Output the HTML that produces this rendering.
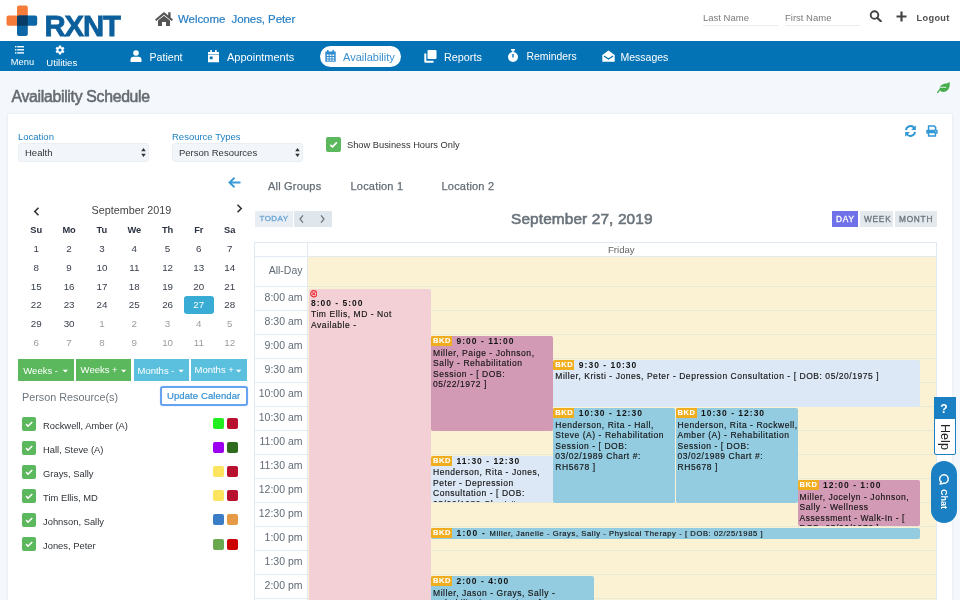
<!DOCTYPE html>
<html><head><meta charset="utf-8">
<style>
*{box-sizing:border-box;margin:0;padding:0}
html,body{width:960px;height:600px;overflow:hidden;background:#f4f7fb;}
body{will-change:transform;font-family:"Liberation Sans",sans-serif}
.a{position:absolute}
.t{position:absolute;line-height:1;white-space:nowrap}
#hdr{position:absolute;left:0;top:0;width:960px;height:41px;background:#fff}
#nav{position:absolute;left:0;top:41px;width:960px;height:30px;background:#0473b6}
.nv{color:#fff;font-size:11px}
#card{position:absolute;left:7.5px;top:114.3px;width:944.7px;height:500px;background:#fff;box-shadow:0 0 3px rgba(0,0,0,.08)}
.lbl{color:#1b7fc3;font-size:9.5px}
.sel{position:absolute;height:19px;background:#f2f6fa;border:1px solid #e9eef3;border-radius:3px}
.cal{color:#363d4a;font-size:9.8px;text-align:center;width:20px}
.dim{color:#9c9c9c}
.btn{position:absolute;height:22px;color:#fff;font-size:9.5px}
.g{background:#5cb85c}.b{background:#5bc0de}
.ck{position:absolute;width:14px;height:14px;background:#5cb85c;border-radius:2px}
.sw{position:absolute;width:11px;height:11px;border-radius:2px}
.nm{color:#2f3338;font-size:9.4px}
.tl{color:#616b76;font-size:10.5px;text-align:right;width:60px}
.hl{position:absolute;left:255px;width:682px;height:1px;background:#e3e8ee}
.ev{position:absolute;overflow:hidden;border-radius:2px;font-size:8.5px;letter-spacing:.55px;color:#141414;line-height:10.5px;-webkit-text-stroke:.15px #141414;padding-left:2px}
.ev b{letter-spacing:1px;font-weight:bold;-webkit-text-stroke:0}
.ttl{height:11.5px;white-space:nowrap}
.ln{white-space:nowrap}
.bkd{display:inline-block;background:#f0ae1f;color:#fff;-webkit-text-stroke:.1px #fff;font-size:7.5px;font-weight:bold;letter-spacing:.6px;height:10px;line-height:10px;padding:0 1px 0 2px;margin-left:-2px;margin-right:4.5px;vertical-align:top}
</style></head><body>
<div id="hdr">
  <!-- logo -->
  <svg class="a" style="left:0;top:0" width="40" height="40" viewBox="0 0 40 40">
    <path d="M17 7.4 a2 2 0 0 1 2 -2 h6.8 a2 2 0 0 1 2 2 V25.7 H8.5 a2 2 0 0 1 -2 -2 v-6.1 a2 2 0 0 1 2 -2 H17z" fill="#f47b3a"/>
    <path d="M17 17.6 a2 2 0 0 1 2 -2 H35.2 a2 2 0 0 1 2 2 v6.1 a2 2 0 0 1 -2 2 H27.8 V33.9 a2 2 0 0 1 -2 2 H19 a2 2 0 0 1 -2 -2z" fill="#0d66a6"/>
    <path d="M17 17.6 a2 2 0 0 1 2 -2 H27.8 V25.7 H17z" fill="#0a3d66"/>
  </svg>
  <div class="t" style="left:44.5px;top:11px;font-size:29.3px;font-weight:bold;color:#0c5f9b;letter-spacing:-1.1px;-webkit-text-stroke:.8px #0c5f9b">RXNT</div>
  <svg class="a" style="left:154px;top:11px" width="20" height="16" viewBox="0 0 20 16">
    <path d="M10 1 L1 8.5 L2.3 10 L10 3.7 L17.7 10 L19 8.5 L16.6 6.5 V1.3 H14.2 V4.5z" fill="#555"/>
    <path d="M4 9.5 L10 4.7 L16 9.5 V15 H12 V11 H8 V15 H4z" fill="#555"/>
  </svg>
  <div class="t" style="left:178px;top:13.5px;font-size:11.5px;color:#2a80c4;letter-spacing:-.07px;-webkit-text-stroke:.2px #2a80c4">Welcome&nbsp; Jones, Peter</div>
  <div class="t" style="left:703px;top:13px;font-size:9.5px;color:#7a7a7a">Last Name</div>
  <div class="a" style="left:703px;top:25px;width:75px;height:1px;background:#ececec"></div>
  <div class="t" style="left:785px;top:13px;font-size:9.5px;color:#7a7a7a">First Name</div>
  <div class="a" style="left:785px;top:25px;width:75px;height:1px;background:#ececec"></div>
  <svg class="a" style="left:869px;top:10.3px" width="14" height="12" viewBox="0 0 14 12">
    <circle cx="5.5" cy="5" r="3.8" stroke="#444" stroke-width="1.9" fill="none"/>
    <path d="M8.2 7.8 L11.8 11.2" stroke="#444" stroke-width="2.2" stroke-linecap="round"/>
  </svg>
  <svg class="a" style="left:894.5px;top:11.3px" width="13" height="11" viewBox="0 0 13 11">
    <path d="M6.5 0.5 V10.5 M1.5 5.5 H11.5" stroke="#444" stroke-width="2.2"/>
  </svg>
  <div class="t" style="left:916.5px;top:14px;font-size:9.2px;font-weight:bold;color:#505050;letter-spacing:.35px">Logout</div>
</div>
<div id="nav">
  <svg class="a" style="left:15px;top:5px" width="9" height="8" viewBox="0 0 9 8">
    <rect x="0" y="0" width="1.4" height="1.4" fill="#fff"/><rect x="2.2" y="0" width="6.8" height="1.4" fill="#fff"/>
    <rect x="0" y="3.1" width="1.4" height="1.4" fill="#fff"/><rect x="2.2" y="3.1" width="6.8" height="1.4" fill="#fff"/>
    <rect x="0" y="6.2" width="1.4" height="1.4" fill="#fff"/><rect x="2.2" y="6.2" width="6.8" height="1.4" fill="#fff"/>
  </svg>
  <div class="t nv" style="left:10.8px;top:17px;font-size:9.3px">Menu</div>
  <svg class="a" style="left:54.5px;top:3.7px" width="10" height="10" viewBox="0 0 10 10">
    <path d="M3.70 2.08 L3.82 0.55 L6.18 0.55 L6.30 2.08 L6.88 2.41 L8.26 1.75 L9.44 3.80 L8.18 4.67 L8.18 5.33 L9.44 6.20 L8.26 8.25 L6.88 7.59 L6.30 7.92 L6.18 9.45 L3.82 9.45 L3.70 7.92 L3.12 7.59 L1.74 8.25 L0.56 6.20 L1.82 5.33 L1.82 4.67 L0.56 3.80 L1.74 1.75 L3.12 2.41z M5 3.4 A1.6 1.6 0 1 0 5 6.6 A1.6 1.6 0 1 0 5 3.4z" fill="#fff" fill-rule="evenodd"/>
  </svg>
  <div class="t nv" style="left:46.3px;top:16.5px;font-size:9.6px">Utilities</div>
  <!-- patient -->
  <svg class="a" style="left:130px;top:9px" width="12" height="12" viewBox="0 0 12 12">
    <circle cx="6" cy="3" r="2.8" fill="#fff"/><path d="M0.5 12 V10 Q0.5 6.8 3.5 6.8 H8.5 Q11.5 6.8 11.5 10 V12z" fill="#fff"/>
  </svg>
  <div class="t nv" style="left:149.5px;top:10.5px;font-size:10.6px">Patient</div>
  <svg class="a" style="left:208px;top:9px" width="11" height="13" viewBox="0 0 11 13">
    <rect x="2.3" y="0" width="1.6" height="2.5" fill="#fff"/><rect x="7.1" y="0" width="1.6" height="2.5" fill="#fff"/>
    <rect x="0" y="2" width="11" height="2" fill="#fff"/>
    <path d="M0 4.6 H11 V12.2 H0z M1.8 6.6 V9.2 H4.6 V6.6z" fill="#fff" fill-rule="evenodd"/>
  </svg>
  <div class="t nv" style="left:227px;top:10.5px">Appointments</div>
  <div class="a" style="left:320px;top:4.5px;width:81px;height:21.5px;background:#fff;border-radius:11px"></div>
  <svg class="a" style="left:325px;top:9px" width="11" height="12" viewBox="0 0 11 12">
    <rect x="2" y="0" width="1.6" height="2.5" fill="#2e8bd0"/><rect x="7.4" y="0" width="1.6" height="2.5" fill="#2e8bd0"/>
    <path d="M0.3 1.5 H10.7 V11.7 H0.3z" fill="#2e8bd0"/>
    <g fill="#fff"><rect x="1.8" y="4.5" width="1.8" height="1.5"/><rect x="4.6" y="4.5" width="1.8" height="1.5"/><rect x="7.4" y="4.5" width="1.8" height="1.5"/>
    <rect x="1.8" y="7" width="1.8" height="1.5"/><rect x="4.6" y="7" width="1.8" height="1.5"/><rect x="7.4" y="7" width="1.8" height="1.5"/>
    <rect x="1.8" y="9.5" width="1.8" height="1.2"/><rect x="4.6" y="9.5" width="1.8" height="1.2"/><rect x="7.4" y="9.5" width="1.8" height="1.2"/></g>
  </svg>
  <div class="t" style="left:343px;top:10.5px;font-size:11px;color:#3a90d0">Availability</div>
  <svg class="a" style="left:424px;top:9px" width="13" height="13" viewBox="0 0 13 13">
    <rect x="3.5" y="0" width="9" height="9" rx="1" fill="#fff"/>
    <path d="M0.3 3.5 H2.3 V10.7 H9.5 V12.7 H1.3 Q0.3 12.7 0.3 11.7z" fill="#fff"/>
  </svg>
  <div class="t nv" style="left:444px;top:10.5px;font-size:10.8px">Reports</div>
  <svg class="a" style="left:507px;top:8px" width="12" height="14" viewBox="0 0 12 14">
    <rect x="4" y="0" width="4" height="1.6" fill="#fff"/><rect x="5.2" y="1" width="1.6" height="2" fill="#fff"/>
    <circle cx="6" cy="8" r="5" fill="#fff"/><path d="M6 5 V8.5" stroke="#0473b6" stroke-width="1.4"/>
  </svg>
  <div class="t nv" style="left:526.5px;top:11.2px;font-size:10.4px">Reminders</div>
  <svg class="a" style="left:602px;top:9px" width="13" height="12" viewBox="0 0 13 12">
    <path d="M0.3 5 L6.5 0.5 L12.7 5 V11.7 H0.3z" fill="#fff"/>
    <path d="M2 6 L6.5 9 L11 6" stroke="#0473b6" stroke-width="1.3" fill="none"/>
  </svg>
  <div class="t nv" style="left:620.5px;top:10.5px;font-size:10.5px">Messages</div>
</div>
<!-- leaf -->
<svg class="a" style="left:937px;top:81px" width="13" height="12" viewBox="0 0 13 12">
  <path d="M2.6 7.5 C3 3.5 6.5 2.6 9.5 2.4 C11 2.3 12 1.6 12.4 0.8 C13.2 3.5 12.6 7.2 10.5 9.3 C8.5 11.2 5.5 11.3 3.8 10.2 C3.2 9.8 2.7 9 2.6 7.5z" fill="#46ad4b"/>
  <path d="M0.6 11.6 C1.5 9.8 3 8.4 4.5 7.8" stroke="#46ad4b" stroke-width="1.3" fill="none" stroke-linecap="round"/>
  <path d="M3.2 6.3 H9.3" stroke="#f4f7fb" stroke-width="0.9"/>
</svg>
<div class="t" style="left:11.5px;top:88.6px;font-size:15.8px;color:#646b72;letter-spacing:-.3px;-webkit-text-stroke:.55px #646b72">Availability Schedule</div>
<div id="card"></div>
<!-- toolbar icons -->
<svg class="a" style="left:904px;top:125px" width="13" height="12" viewBox="0 0 13 12">
  <path d="M2 5.2 A4.6 4.6 0 0 1 10.3 3" stroke="#2f96d6" stroke-width="1.9" fill="none"/>
  <path d="M11.8 0.3 V5 H7.1z" fill="#2f96d6"/>
  <path d="M11 6.8 A4.6 4.6 0 0 1 2.7 9" stroke="#2f96d6" stroke-width="1.9" fill="none"/>
  <path d="M1.2 11.7 V7 H5.9z" fill="#2f96d6"/>
</svg>
<svg class="a" style="left:926px;top:125px" width="12" height="12" viewBox="0 0 12 12">
  <path d="M2.6 5.2 V1.1 H8.3 L9.6 2.4 V5.2" stroke="#3399d6" stroke-width="1.5" fill="none"/>
  <rect x="0.3" y="4.8" width="11.4" height="4" rx="0.8" fill="#3399d6"/>
  <circle cx="9.8" cy="6.3" r="0.6" fill="#fff"/>
  <path d="M2.6 7.6 H9.4 V11.1 H2.6z" stroke="#3399d6" stroke-width="1.5" fill="#fff"/>
</svg>
<!-- filters -->
<div class="t lbl" style="left:18px;top:132px">Location</div>
<div class="sel" style="left:18px;top:143px;width:131px"></div>
<div class="t" style="left:25px;top:148px;font-size:9.5px;color:#333">Health</div>
<svg class="a" style="left:141px;top:148px" width="5" height="9" viewBox="0 0 5 9"><path d="M2.5 0 L4.8 3.3 H0.2z M2.5 9 L4.8 5.7 H0.2z" fill="#333"/></svg>
<div class="t lbl" style="left:172px;top:132px">Resource Types</div>
<div class="sel" style="left:172px;top:143px;width:131px"></div>
<div class="t" style="left:179px;top:148px;font-size:9.5px;color:#333">Person Resources</div>
<svg class="a" style="left:295px;top:148px" width="5" height="9" viewBox="0 0 5 9"><path d="M2.5 0 L4.8 3.3 H0.2z M2.5 9 L4.8 5.7 H0.2z" fill="#333"/></svg>
<div class="ck" style="left:326px;top:137px;width:15px;height:15px"></div>
<svg class="a" style="left:326px;top:137px" width="15" height="15" viewBox="0 0 15 15"><path d="M4.3 7.8 L6.5 9.8 L10.8 5.3" stroke="#fff" stroke-width="1.7" fill="none"/></svg>
<div class="t" style="left:347px;top:140.5px;font-size:9.3px;color:#333">Show Business Hours Only</div>
<!-- back arrow -->
<svg class="a" style="left:228px;top:177px" width="13" height="11" viewBox="0 0 13 11">
  <path d="M12.5 5.5 H2 M6.5 0.8 L1.5 5.5 L6.5 10.2" stroke="#3a9ad9" stroke-width="1.9" fill="none"/>
</svg>
<div class="t" style="left:268px;top:180.5px;font-size:11px;color:#646d75;letter-spacing:.2px;-webkit-text-stroke:.25px #646d75">All Groups</div>
<div class="t" style="left:350.5px;top:180.5px;font-size:11px;color:#646d75;letter-spacing:.2px;-webkit-text-stroke:.25px #646d75">Location 1</div>
<div class="t" style="left:441.5px;top:180.5px;font-size:11px;color:#646d75;letter-spacing:.2px;-webkit-text-stroke:.25px #646d75">Location 2</div>
<!-- mini calendar -->
<svg class="a" style="left:33px;top:207px" width="7" height="9" viewBox="0 0 7 9"><path d="M5.5 0.8 L1.8 4.5 L5.5 8.2" stroke="#333" stroke-width="1.6" fill="none"/></svg>
<div class="t" style="left:91.5px;top:204.5px;font-size:10.8px;color:#444">September 2019</div>
<svg class="a" style="left:236px;top:204px" width="7" height="9" viewBox="0 0 7 9"><path d="M1.5 0.8 L5.2 4.5 L1.5 8.2" stroke="#333" stroke-width="1.6" fill="none"/></svg>
<div class="t cal" style="left:26.3px;top:225.5px;font-weight:bold;color:#2b3240;font-size:9.3px">Su</div>
<div class="t cal" style="left:59.1px;top:225.5px;font-weight:bold;color:#2b3240;font-size:9.3px">Mo</div>
<div class="t cal" style="left:91.9px;top:225.5px;font-weight:bold;color:#2b3240;font-size:9.3px">Tu</div>
<div class="t cal" style="left:124.3px;top:225.5px;font-weight:bold;color:#2b3240;font-size:9.3px">We</div>
<div class="t cal" style="left:157.6px;top:225.5px;font-weight:bold;color:#2b3240;font-size:9.3px">Th</div>
<div class="t cal" style="left:188.8px;top:225.5px;font-weight:bold;color:#2b3240;font-size:9.3px">Fr</div>
<div class="t cal" style="left:219.8px;top:225.5px;font-weight:bold;color:#2b3240;font-size:9.3px">Sa</div>
<div class="t cal" style="left:26.3px;top:244.0px">1</div>
<div class="t cal" style="left:59.1px;top:244.0px">2</div>
<div class="t cal" style="left:91.9px;top:244.0px">3</div>
<div class="t cal" style="left:124.3px;top:244.0px">4</div>
<div class="t cal" style="left:157.6px;top:244.0px">5</div>
<div class="t cal" style="left:188.8px;top:244.0px">6</div>
<div class="t cal" style="left:219.8px;top:244.0px">7</div>
<div class="t cal" style="left:26.3px;top:262.8px">8</div>
<div class="t cal" style="left:59.1px;top:262.8px">9</div>
<div class="t cal" style="left:91.9px;top:262.8px">10</div>
<div class="t cal" style="left:124.3px;top:262.8px">11</div>
<div class="t cal" style="left:157.6px;top:262.8px">12</div>
<div class="t cal" style="left:188.8px;top:262.8px">13</div>
<div class="t cal" style="left:219.8px;top:262.8px">14</div>
<div class="t cal" style="left:26.3px;top:281.6px">15</div>
<div class="t cal" style="left:59.1px;top:281.6px">16</div>
<div class="t cal" style="left:91.9px;top:281.6px">17</div>
<div class="t cal" style="left:124.3px;top:281.6px">18</div>
<div class="t cal" style="left:157.6px;top:281.6px">19</div>
<div class="t cal" style="left:188.8px;top:281.6px">20</div>
<div class="t cal" style="left:219.8px;top:281.6px">21</div>
<div class="t cal" style="left:26.3px;top:300.4px">22</div>
<div class="t cal" style="left:59.1px;top:300.4px">23</div>
<div class="t cal" style="left:91.9px;top:300.4px">24</div>
<div class="t cal" style="left:124.3px;top:300.4px">25</div>
<div class="t cal" style="left:157.6px;top:300.4px">26</div>
<div class="a" style="left:184px;top:295.5px;width:29.6px;height:18.7px;background:#38acd5;border-radius:3px"></div>
<div class="t cal" style="left:188.8px;top:300.4px;color:#fff">27</div>
<div class="t cal" style="left:219.8px;top:300.4px">28</div>
<div class="t cal" style="left:26.3px;top:319.2px">29</div>
<div class="t cal" style="left:59.1px;top:319.2px">30</div>
<div class="t cal dim" style="left:91.9px;top:319.2px">1</div>
<div class="t cal dim" style="left:124.3px;top:319.2px">2</div>
<div class="t cal dim" style="left:157.6px;top:319.2px">3</div>
<div class="t cal dim" style="left:188.8px;top:319.2px">4</div>
<div class="t cal dim" style="left:219.8px;top:319.2px">5</div>
<div class="t cal dim" style="left:26.3px;top:338.0px">6</div>
<div class="t cal dim" style="left:59.1px;top:338.0px">7</div>
<div class="t cal dim" style="left:91.9px;top:338.0px">8</div>
<div class="t cal dim" style="left:124.3px;top:338.0px">9</div>
<div class="t cal dim" style="left:157.6px;top:338.0px">10</div>
<div class="t cal dim" style="left:188.8px;top:338.0px">11</div>
<div class="t cal dim" style="left:219.8px;top:338.0px">12</div>
<div class="btn g" style="left:18px;top:359px;width:55.5px"></div>
<div class="t" style="left:23.3px;top:365.5px;font-size:9.5px;color:#fff">Weeks -</div>
<div class="btn g" style="left:76px;top:359px;width:55px"></div>
<div class="t" style="left:80.6px;top:364.5px;font-size:9.5px;color:#fff">Weeks +</div>
<div class="btn b" style="left:133.5px;top:359px;width:55.5px"></div>
<div class="t" style="left:137.5px;top:365.5px;font-size:9.5px;color:#fff">Months -</div>
<div class="btn b" style="left:191px;top:359px;width:56px"></div>
<div class="t" style="left:194.5px;top:364.5px;font-size:9.5px;color:#fff">Months +</div>
<svg class="a" style="left:0;top:0" width="260" height="400" viewBox="0 0 260 400">
  <path d="M62.7 369.7 H68 L65.35 372.5z M121 369.7 H126.3 L123.65 372.5z M178.5 369.7 H183.8 L181.15 372.5z M236 369.7 H241.3 L238.65 372.5z" fill="#fff"/>
</svg>
<div class="t" style="left:22px;top:391.5px;font-size:10.8px;color:#6c757d">Person Resource(s)</div>
<div class="a" style="left:159.5px;top:386px;width:88px;height:20px;border:2px solid #66a3f0;border-radius:3px;box-shadow:0 0 1px #8ab8f5"></div>
<div class="t" style="left:167px;top:390.5px;font-size:9.5px;color:#3590d2;letter-spacing:.1px;-webkit-text-stroke:.2px #3590d2">Update Calendar</div>
<div class="ck" style="left:22px;top:417.0px"></div><svg class="a" style="left:22px;top:417.0px" width="14" height="14" viewBox="0 0 14 14"><path d="M4 7.2 L6.1 9.2 L10.2 5" stroke="#fff" stroke-width="1.6" fill="none"/></svg><div class="t nm" style="left:43px;top:420.5px">Rockwell, Amber (A)</div><div class="sw" style="left:212.5px;top:418.2px;background:#22ee22"></div><div class="sw" style="left:227px;top:418.2px;background:#b8102e"></div>
<div class="ck" style="left:22px;top:441.1px"></div><svg class="a" style="left:22px;top:441.1px" width="14" height="14" viewBox="0 0 14 14"><path d="M4 7.2 L6.1 9.2 L10.2 5" stroke="#fff" stroke-width="1.6" fill="none"/></svg><div class="t nm" style="left:43px;top:444.6px">Hall, Steve (A)</div><div class="sw" style="left:212.5px;top:442.2px;background:#9b00f0"></div><div class="sw" style="left:227px;top:442.2px;background:#2e6b1e"></div>
<div class="ck" style="left:22px;top:465.1px"></div><svg class="a" style="left:22px;top:465.1px" width="14" height="14" viewBox="0 0 14 14"><path d="M4 7.2 L6.1 9.2 L10.2 5" stroke="#fff" stroke-width="1.6" fill="none"/></svg><div class="t nm" style="left:43px;top:468.6px">Grays, Sally</div><div class="sw" style="left:212.5px;top:466.3px;background:#fce45e"></div><div class="sw" style="left:227px;top:466.3px;background:#b8102e"></div>
<div class="ck" style="left:22px;top:489.1px"></div><svg class="a" style="left:22px;top:489.1px" width="14" height="14" viewBox="0 0 14 14"><path d="M4 7.2 L6.1 9.2 L10.2 5" stroke="#fff" stroke-width="1.6" fill="none"/></svg><div class="t nm" style="left:43px;top:492.6px">Tim Ellis, MD</div><div class="sw" style="left:212.5px;top:490.3px;background:#fce45e"></div><div class="sw" style="left:227px;top:490.3px;background:#b8102e"></div>
<div class="ck" style="left:22px;top:513.2px"></div><svg class="a" style="left:22px;top:513.2px" width="14" height="14" viewBox="0 0 14 14"><path d="M4 7.2 L6.1 9.2 L10.2 5" stroke="#fff" stroke-width="1.6" fill="none"/></svg><div class="t nm" style="left:43px;top:516.7px">Johnson, Sally</div><div class="sw" style="left:212.5px;top:514.4px;background:#3a7cc6"></div><div class="sw" style="left:227px;top:514.4px;background:#e69a45"></div>
<div class="ck" style="left:22px;top:537.2px"></div><svg class="a" style="left:22px;top:537.2px" width="14" height="14" viewBox="0 0 14 14"><path d="M4 7.2 L6.1 9.2 L10.2 5" stroke="#fff" stroke-width="1.6" fill="none"/></svg><div class="t nm" style="left:43px;top:540.8px">Jones, Peter</div><div class="sw" style="left:212.5px;top:538.5px;background:#6aa84f"></div><div class="sw" style="left:227px;top:538.5px;background:#cc0000"></div>

<!-- scheduler toolbar -->
<div class="a" style="left:254.5px;top:211px;width:38px;height:15.5px;background:#e8eef4"></div>
<div class="t" style="left:259.5px;top:215px;font-size:8px;color:#6aa6d6;letter-spacing:.45px;-webkit-text-stroke:.3px #6aa6d6">TODAY</div>
<div class="a" style="left:294px;top:211px;width:38px;height:15.5px;background:#dfe6ec"></div>
<svg class="a" style="left:298px;top:214px" width="30" height="10" viewBox="0 0 30 10"><path d="M5 1.3 L2 5 L5 8.7 M23 1.3 L26 5 L23 8.7" stroke="#6b747c" stroke-width="1.2" fill="none"/></svg>
<div class="t" style="left:511px;top:210.6px;font-size:15.4px;color:#6a737b;letter-spacing:.12px;-webkit-text-stroke:.6px #6a737b">September 27, 2019</div>
<div class="a" style="left:832px;top:211px;width:26px;height:15.5px;background:#6f71e9"></div>
<div class="t" style="left:836px;top:215px;font-size:8.3px;color:#fff;letter-spacing:.75px;-webkit-text-stroke:.3px #fff">DAY</div>
<div class="a" style="left:860px;top:211px;width:33px;height:15.5px;background:#e4e9ee"></div>
<div class="t" style="left:864px;top:215px;font-size:8.3px;color:#6c757d;letter-spacing:.75px;-webkit-text-stroke:.3px #6c757d">WEEK</div>
<div class="a" style="left:895px;top:211px;width:41.5px;height:15.5px;background:#e4e9ee"></div>
<div class="t" style="left:899px;top:215px;font-size:8.3px;color:#6c757d;letter-spacing:.75px;-webkit-text-stroke:.3px #6c757d">MONTH</div>
<!-- grid -->
<div class="a" style="left:254px;top:241.5px;width:683px;height:400px;border:1px solid #e1eaf2;background:#fff"></div>
<div class="a" style="left:307.5px;top:256px;width:628.5px;height:400px;background:#faf2d3"></div>
<div class="a" style="left:307px;top:242px;width:1px;height:400px;background:#e3eaf1"></div>
<div class="hl" style="top:255.5px;background:#e3eaf1"></div>
<div class="t" style="left:608px;top:244.5px;font-size:9.6px;color:#666">Friday</div>
<div class="t tl" style="left:242.5px;top:265px">All-Day</div>
<div class="a" style="left:255px;top:285.5px;width:52px;height:1.3px;background:#e4ecf3"></div><div class="a" style="left:308px;top:285.5px;width:628px;height:1.3px;background:#e8e8da"></div><div class="t tl" style="left:242.5px;top:291.5px">8:00 am</div>
<div class="a" style="left:255px;top:309.5px;width:52px;height:1.3px;background:#e4ecf3"></div><div class="a" style="left:308px;top:309.5px;width:628px;height:1.3px;background:#e8e8da"></div><div class="t tl" style="left:242.5px;top:315.5px">8:30 am</div>
<div class="a" style="left:255px;top:333.5px;width:52px;height:1.3px;background:#e4ecf3"></div><div class="a" style="left:308px;top:333.5px;width:628px;height:1.3px;background:#e8e8da"></div><div class="t tl" style="left:242.5px;top:339.5px">9:00 am</div>
<div class="a" style="left:255px;top:357.5px;width:52px;height:1.3px;background:#e4ecf3"></div><div class="a" style="left:308px;top:357.5px;width:628px;height:1.3px;background:#e8e8da"></div><div class="t tl" style="left:242.5px;top:363.5px">9:30 am</div>
<div class="a" style="left:255px;top:381.5px;width:52px;height:1.3px;background:#e4ecf3"></div><div class="a" style="left:308px;top:381.5px;width:628px;height:1.3px;background:#e8e8da"></div><div class="t tl" style="left:242.5px;top:387.5px">10:00 am</div>
<div class="a" style="left:255px;top:405.5px;width:52px;height:1.3px;background:#e4ecf3"></div><div class="a" style="left:308px;top:405.5px;width:628px;height:1.3px;background:#e8e8da"></div><div class="t tl" style="left:242.5px;top:411.5px">10:30 am</div>
<div class="a" style="left:255px;top:429.5px;width:52px;height:1.3px;background:#e4ecf3"></div><div class="a" style="left:308px;top:429.5px;width:628px;height:1.3px;background:#e8e8da"></div><div class="t tl" style="left:242.5px;top:435.5px">11:00 am</div>
<div class="a" style="left:255px;top:453.5px;width:52px;height:1.3px;background:#e4ecf3"></div><div class="a" style="left:308px;top:453.5px;width:628px;height:1.3px;background:#e8e8da"></div><div class="t tl" style="left:242.5px;top:459.5px">11:30 am</div>
<div class="a" style="left:255px;top:477.5px;width:52px;height:1.3px;background:#e4ecf3"></div><div class="a" style="left:308px;top:477.5px;width:628px;height:1.3px;background:#e8e8da"></div><div class="t tl" style="left:242.5px;top:483.5px">12:00 pm</div>
<div class="a" style="left:255px;top:501.5px;width:52px;height:1.3px;background:#e4ecf3"></div><div class="a" style="left:308px;top:501.5px;width:628px;height:1.3px;background:#e8e8da"></div><div class="t tl" style="left:242.5px;top:507.5px">12:30 pm</div>
<div class="a" style="left:255px;top:525.5px;width:52px;height:1.3px;background:#e4ecf3"></div><div class="a" style="left:308px;top:525.5px;width:628px;height:1.3px;background:#e8e8da"></div><div class="t tl" style="left:242.5px;top:531.5px">1:00 pm</div>
<div class="a" style="left:255px;top:549.5px;width:52px;height:1.3px;background:#e4ecf3"></div><div class="a" style="left:308px;top:549.5px;width:628px;height:1.3px;background:#e8e8da"></div><div class="t tl" style="left:242.5px;top:555.5px">1:30 pm</div>
<div class="a" style="left:255px;top:573.5px;width:52px;height:1.3px;background:#e4ecf3"></div><div class="a" style="left:308px;top:573.5px;width:628px;height:1.3px;background:#e8e8da"></div><div class="t tl" style="left:242.5px;top:579.5px">2:00 pm</div>
<div class="a" style="left:255px;top:597.5px;width:52px;height:1.3px;background:#e4ecf3"></div><div class="a" style="left:308px;top:597.5px;width:628px;height:1.3px;background:#e8e8da"></div><div class="t tl" style="left:242.5px;top:603.5px">2:30 pm</div>
<div class="ev" style="left:309px;top:289px;width:122px;height:320px;background:#f2d0d6"><svg style="display:block;margin:1px 0 0 -1.5px" width="7.5" height="7.5" viewBox="0 0 8 8"><circle cx="4" cy="4" r="3.3" stroke="#ee2b30" stroke-width="1.2" fill="none"/><path d="M2.5 2.5 L5.5 5.5 M5.5 2.5 L2.5 5.5" stroke="#ee2b30" stroke-width="1.1"/></svg><div class="ttl" style="height:11px;margin-top:0.5px"><b>8:00 - 5:00</b></div><div class="ln">Tim Ellis, MD - Not</div><div class="ln">Available -</div></div>
<div class="ev" style="left:431px;top:336px;width:122.3px;height:94.5px;background:#d39ab5"><div class="ttl"><span class="bkd">BKD</span><b>9:00 - 11:00</b></div><div class="ln">Miller, Paige - Johnson,</div><div class="ln">Sally - Rehabilitation</div><div class="ln">Session - [ DOB:</div><div class="ln">05/22/1972 ]</div></div>
<div class="ev" style="left:553.3px;top:359.7px;width:366.7px;height:47.3px;background:#dce8f5"><div class="ttl"><span class="bkd">BKD</span><b>9:30 - 10:30</b></div><div class="ln">Miller, Kristi - Jones, Peter - Depression Consultation - [ DOB: 05/20/1975 ]</div></div>
<div class="ev" style="left:553.3px;top:408px;width:121.7px;height:94.5px;background:#93cbe0"><div class="ttl"><span class="bkd">BKD</span><b>10:30 - 12:30</b></div><div class="ln">Henderson, Rita - Hall,</div><div class="ln">Steve (A) - Rehabilitation</div><div class="ln">Session - [ DOB:</div><div class="ln">03/02/1989 Chart #:</div><div class="ln">RH5678 ]</div></div>
<div class="ev" style="left:675.5px;top:408px;width:122.0px;height:94.5px;background:#93cbe0"><div class="ttl"><span class="bkd">BKD</span><b>10:30 - 12:30</b></div><div class="ln">Henderson, Rita - Rockwell,</div><div class="ln">Amber (A) - Rehabilitation</div><div class="ln">Session - [ DOB:</div><div class="ln">03/02/1989 Chart #:</div><div class="ln">RH5678 ]</div></div>
<div class="ev" style="left:431px;top:455.6px;width:122.3px;height:46.9px;background:#dce8f5"><div class="ttl"><span class="bkd">BKD</span><b>11:30 - 12:30</b></div><div class="ln">Henderson, Rita - Jones,</div><div class="ln">Peter - Depression</div><div class="ln">Consultation - [ DOB:</div><div class="ln">03/02/1989 Chart #:</div></div>
<div class="ev" style="left:797.5px;top:480.4px;width:122.5px;height:45.6px;background:#d39ab5"><div class="ttl"><span class="bkd">BKD</span><b>12:00 - 1:00</b></div><div class="ln">Miller, Jocelyn - Johnson,</div><div class="ln">Sally - Wellness</div><div class="ln">Assessment - Walk-In - [</div><div class="ln">DOB: 05/26/1972 ]</div></div>
<div class="ev" style="left:431px;top:528px;width:489px;height:11px;background:#93cbe0;white-space:nowrap"><span class="bkd">BKD</span><b style="letter-spacing:1.2px">1:00 - </b><span style="font-size:7.6px;letter-spacing:.58px">Miller, Janelle - Grays, Sally - Physical Therapy - [ DOB: 02/25/1985 ]</span></div>
<div class="ev" style="left:431px;top:576px;width:163.0px;height:44.0px;background:#93cbe0"><div class="ttl"><span class="bkd">BKD</span><b>2:00 - 4:00</b></div><div class="ln">Miller, Jason - Grays, Sally -</div><div class="ln">Rehabilitation Session - [ DOB:</div></div>
<div class="a" style="left:934px;top:397px;width:21.5px;height:58px;background:#fff;border:1.5px solid #1b7fc4;border-radius:2px"></div>
<div class="a" style="left:934px;top:397px;width:21.5px;height:21.5px;background:#1b7fc4"></div>
<div class="t" style="left:940.3px;top:403px;font-size:12px;font-weight:bold;color:#fff">?</div>
<div class="t" style="left:937.5px;top:424px;font-size:12.6px;color:#222;transform:rotate(90deg);transform-origin:6.3px 6.3px">Help</div>
<div class="a" style="left:931px;top:461px;width:25.5px;height:62px;background:#1b7fc4;border-radius:13px"></div>
<svg class="a" style="left:937.5px;top:473px" width="12" height="12" viewBox="0 0 12 12"><path d="M3.2 9.3 A4.3 4.3 0 1 1 5 10.2" stroke="#fff" stroke-width="1.4" fill="none"/><path d="M3.5 8 L2 11 L5.5 10.3" stroke="#fff" stroke-width="1.3" fill="none" stroke-linejoin="round"/></svg>
<div class="t" style="left:938px;top:489px;font-size:9px;font-weight:bold;color:#fff;transform:rotate(90deg);transform-origin:5px 5px">Chat</div>

</body></html>
